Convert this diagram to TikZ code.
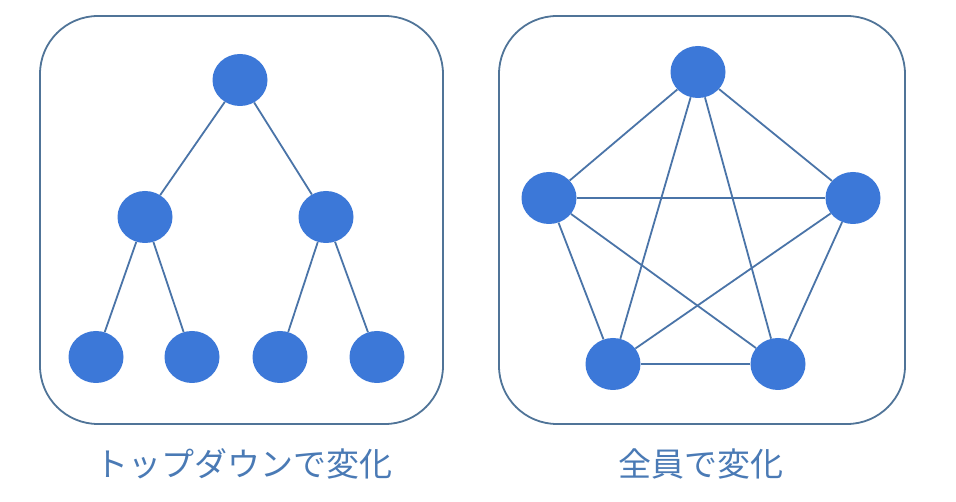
\documentclass[tikz,border=0pt]{standalone}
\usepackage{fontspec}
\usepackage{tikz}
\usetikzlibrary{positioning,shapes.geometric}
\newfontfamily\cjk{Noto Sans CJK JP}
\definecolor{frame}{RGB}{80,116,152}
\definecolor{member}{RGB}{60,120,216}
\definecolor{link}{RGB}{74,116,168}
\definecolor{caption}{RGB}{74,122,181}
\tikzset{
  panel/.style={draw=frame, line width=1.8pt, rounded corners=58pt, fill=white},
  person/.style={ellipse, fill=member, minimum width=55pt, minimum height=52pt, inner sep=0pt},
  tie/.style={draw=link, line width=1.8pt},
  caplbl/.style={font=\cjk\fontsize{33}{36}\selectfont, text=caption, inner sep=0pt}
}
\begin{document}
\begin{tikzpicture}[x=1pt, y=-1pt]
    \useasboundingbox (0,0) rectangle (956,502);
    % 枠
    \draw[panel] (40,16) rectangle (443,424);
    \draw[panel] (499,16) rectangle (905,424);
    % トップダウン
    \node[person] (t0) at (240,80){};
    \node[person] (t1) at (145,217){};
    \node[person] (t2) at (326,217){};
    \node[person] (t3) at (96,357){};
    \node[person] (t4) at (192,357){};
    \node[person] (t5) at (280,357){};
    \node[person] (t6) at (377,357){};
    \draw[tie] (t0) -- (t1);
    \draw[tie] (t0) -- (t2);
    \draw[tie] (t1) -- (t3);
    \draw[tie] (t1) -- (t4);
    \draw[tie] (t2) -- (t5);
    \draw[tie] (t2) -- (t6);
    % 全員
    \node[person] (p1) at (698,72){};
    \node[person] (p2) at (853,198){};
    \node[person] (p3) at (778,364){};
    \node[person] (p4) at (613,364){};
    \node[person] (p5) at (549,198){};
    \foreach \a/\b in {1/2,1/3,1/4,1/5,2/3,2/4,2/5,3/4,3/5,4/5}
      \draw[tie] (p\a) -- (p\b);
    % 見出し
    \node[caplbl] (c1) at (244,464){トップダウンで変化};
    \node[caplbl] (c2) at (701,464){全員で変化};
  \end{tikzpicture}
\end{document}
